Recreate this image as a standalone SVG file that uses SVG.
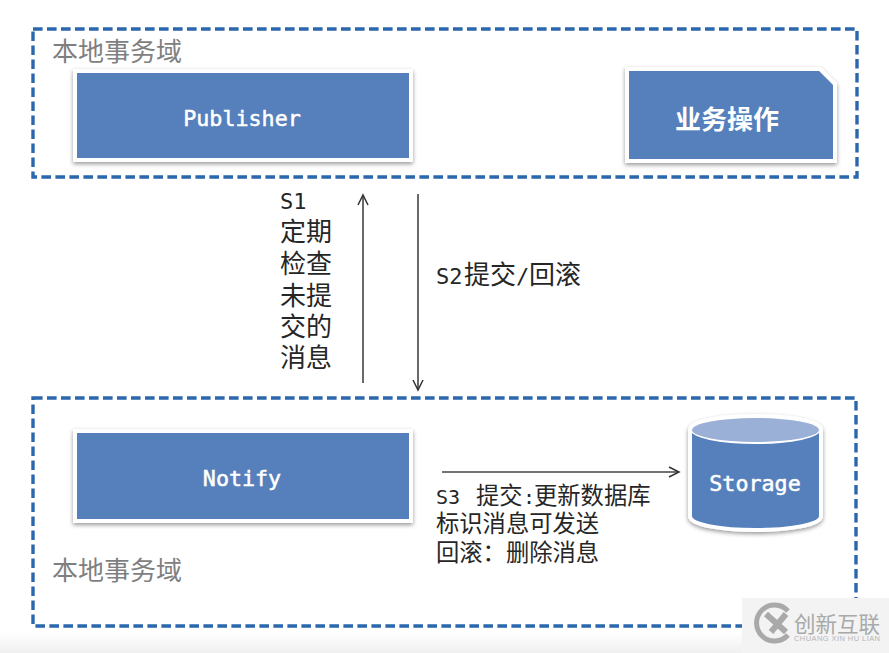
<svg xmlns="http://www.w3.org/2000/svg" width="889" height="653" viewBox="0 0 889 653">
<defs>
<linearGradient id="bottomShade" x1="0" y1="0" x2="0" y2="1"><stop offset="0" stop-color="#ffffff"/><stop offset="1" stop-color="#f0f0f0"/></linearGradient>
<filter id="shadow" x="-10%" y="-15%" width="120%" height="130%"><feDropShadow dx="0" dy="2" stdDeviation="2" flood-color="#000" flood-opacity="0.4"/></filter>
<marker id="open" markerWidth="14" markerHeight="14" refX="11" refY="6" orient="auto" markerUnits="userSpaceOnUse"><path d="M1 1 L11 6 L1 11" fill="none" stroke="#333" stroke-width="1.5"/></marker>
</defs>
<style>
.domain{fill:none;stroke:#2a67ad;stroke-width:3.4;stroke-dasharray:9.6 4.4}
.box{fill:#5680bb;stroke:#fff;stroke-width:4;filter:url(#shadow)}
.conn{fill:none;stroke:#444;stroke-width:1.6;marker-end:url(#open)}
text{font-family:"Noto Sans CJK SC","Noto Sans",sans-serif}
.m{font-family:"DejaVu Sans Mono","Liberation Mono",monospace}
.wt{fill:#fff;stroke:#fff;stroke-width:0.5px;font-size:21.7px;text-anchor:middle}
.dl{fill:#7f7f7f;font-size:26px}
.lb{fill:#262626;font-size:26px}
.lc{fill:#262626;font-size:23.300px}
.s1{font-size:22px}
.s3{font-size:20px}
</style>
<rect width="889" height="653" fill="#fff"/>
<rect y="632" width="889" height="21" fill="url(#bottomShade)"/>
<g id="domain-top">
<rect class="domain" x="33" y="29" width="824" height="148"/>
<text class="dl" x="52" y="61">本地事务域</text>
</g>
<g id="domain-bottom">
<rect class="domain" x="33" y="398" width="823" height="228"/>
<text class="dl" x="52" y="580">本地事务域</text>
</g>
<g id="publisher">
<rect class="box" x="75" y="71" width="336" height="89"/>
<text class="wt m" x="242" y="126">Publisher</text>
</g>
<g id="business">
<path class="box" d="M627 69 H820 L835 84 V161 H627 Z"/>
<text x="727" y="129" fill="#fff" font-size="26" font-weight="700" text-anchor="middle">业务操作</text>
</g>
<g id="notify">
<rect class="box" x="75" y="431" width="336" height="90"/>
<text class="wt m" x="242" y="486">Notify</text>
</g>
<g id="storage">
<path d="M690 430 C690 421 722 416 755.500 416 C789 416 821 421 821 430 V516 C821 525 789 530 755.500 530 C722 530 690 525 690 516 Z" fill="#5680bb" stroke="#fff" stroke-width="4" filter="url(#shadow)"/>
<ellipse cx="755.500" cy="430" rx="65" ry="14" fill="#fff"/>
<ellipse cx="755.500" cy="430" rx="63.500" ry="12" fill="#9ab0d6"/>
<text class="wt m" x="755" y="491">Storage</text>
</g>
<g id="connectors">
<path class="conn" d="M363 383 V195"/>
<path class="conn" d="M418 194 V390"/>
<path class="conn" d="M442 472 H679"/>
</g>
<g id="labels">
<text class="lb m s1" x="280" y="209" style="font-size:22px">S1</text>
<text class="lb" x="280" y="241">定期</text>
<text class="lb" x="280" y="273">检查</text>
<text class="lb" x="280" y="305">未提</text>
<text class="lb" x="280" y="336">交的</text>
<text class="lb" x="280" y="367">消息</text>
<text class="lb" x="436" y="284"><tspan class="m s1">S2</tspan><tspan x="464">提交</tspan><tspan class="m s1" x="516">/</tspan><tspan x="529">回滚</tspan></text>
<text class="lc" x="436" y="504"><tspan class="m s3">S3</tspan><tspan x="476">提交</tspan><tspan class="m s3" x="523">:</tspan><tspan x="534">更新数据库</tspan></text>
<text class="lc" x="436" y="532">标识消息可发送</text>
<text class="lc" x="436" y="561">回滚：删除消息</text>
</g>
<g id="watermark">
<rect x="742" y="598" width="147" height="55" fill="#f3f3f3"/>
<path d="M788 611 A18 18 0 1 0 788 635" fill="none" stroke="#a9a9a9" stroke-width="5"/>
<path d="M766 614 L786 632 M786 614 L771 632" fill="none" stroke="#a9a9a9" stroke-width="6"/>
<text x="794" y="632" fill="#a9a9a9" font-size="21.500">创新互联</text>
<text x="794" y="641" fill="#b5b5b5" font-size="7.500" textLength="86" style="font-family:'Liberation Sans',sans-serif">CHUANG XIN HU LIAN</text>
</g>
</svg>
